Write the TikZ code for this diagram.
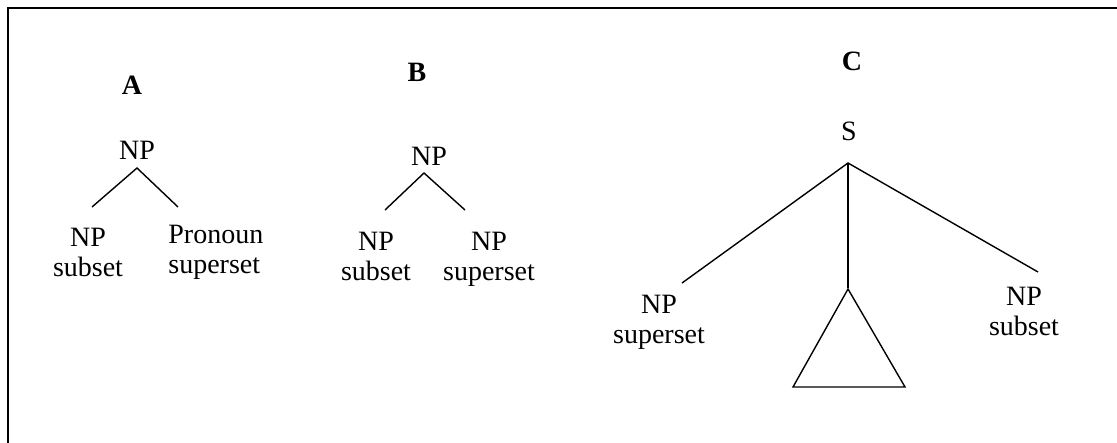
\documentclass[tikz,border=0pt]{standalone}
\usepackage{fontspec}
\setmainfont{Liberation Serif}
\tikzset{
  lab/.style={inner sep=0pt,align=center,anchor=north},
  head/.style={inner sep=0pt,anchor=base,font=\fontsize{14}{15}\selectfont\bfseries},
  branch/.style={line width=0.7pt}
}
\begin{document}
\begin{tikzpicture}[x=0.5pt,y=-0.5pt,font=\fontsize{14}{15}\selectfont]
          \useasboundingbox (0,0) rectangle (1117,443);
          \draw[line width=1pt] (8,443) -- (8,8) -- (1117,8);
          % tree A
          \node[head] (hA) at (132,95) {A};
          \node[lab] (npA) at (137,141) {NP};
          \node[lab] (subA) at (88,228) {NP\\subset};
          \node[lab,anchor=north west,align=left] (proA) at (168,225) {Pronoun\\superset};
          \coordinate (topA) at (137,168);
          \coordinate (lA) at (92,207);
          \coordinate (rA) at (178,207);
          \draw[branch] (lA) -- (topA) -- (rA);
          % tree B
          \node[head] (hB) at (417,82) {B};
          \node[lab] (npB) at (429,147) {NP};
          \node[lab] (subB) at (376,232) {NP\\subset};
          \node[lab] (supB) at (489,232) {NP\\superset};
          \coordinate (topB) at (424,173);
          \coordinate (lB) at (385,210);
          \coordinate (rB) at (465,210);
          \draw[branch] (lB) -- (topB) -- (rB);
          % tree C
          \node[head] (hC) at (852,71) {C};
          \node[lab] (sC) at (849,122) {S};
          \node[lab] (supC) at (659,295) {NP\\superset};
          \node[lab] (subC) at (1024,287) {NP\\subset};
          \coordinate (topC) at (848,163);
          \coordinate (lC) at (682,283);
          \coordinate (rC) at (1038,272);
          \coordinate (mC) at (848,288);
          \draw[branch] (lC) -- (topC) -- (rC);
          \draw[branch] (topC) -- (mC);
          \draw[branch] (848,289) -- (793,387) -- (905,387) -- cycle;
        \end{tikzpicture}
\end{document}
